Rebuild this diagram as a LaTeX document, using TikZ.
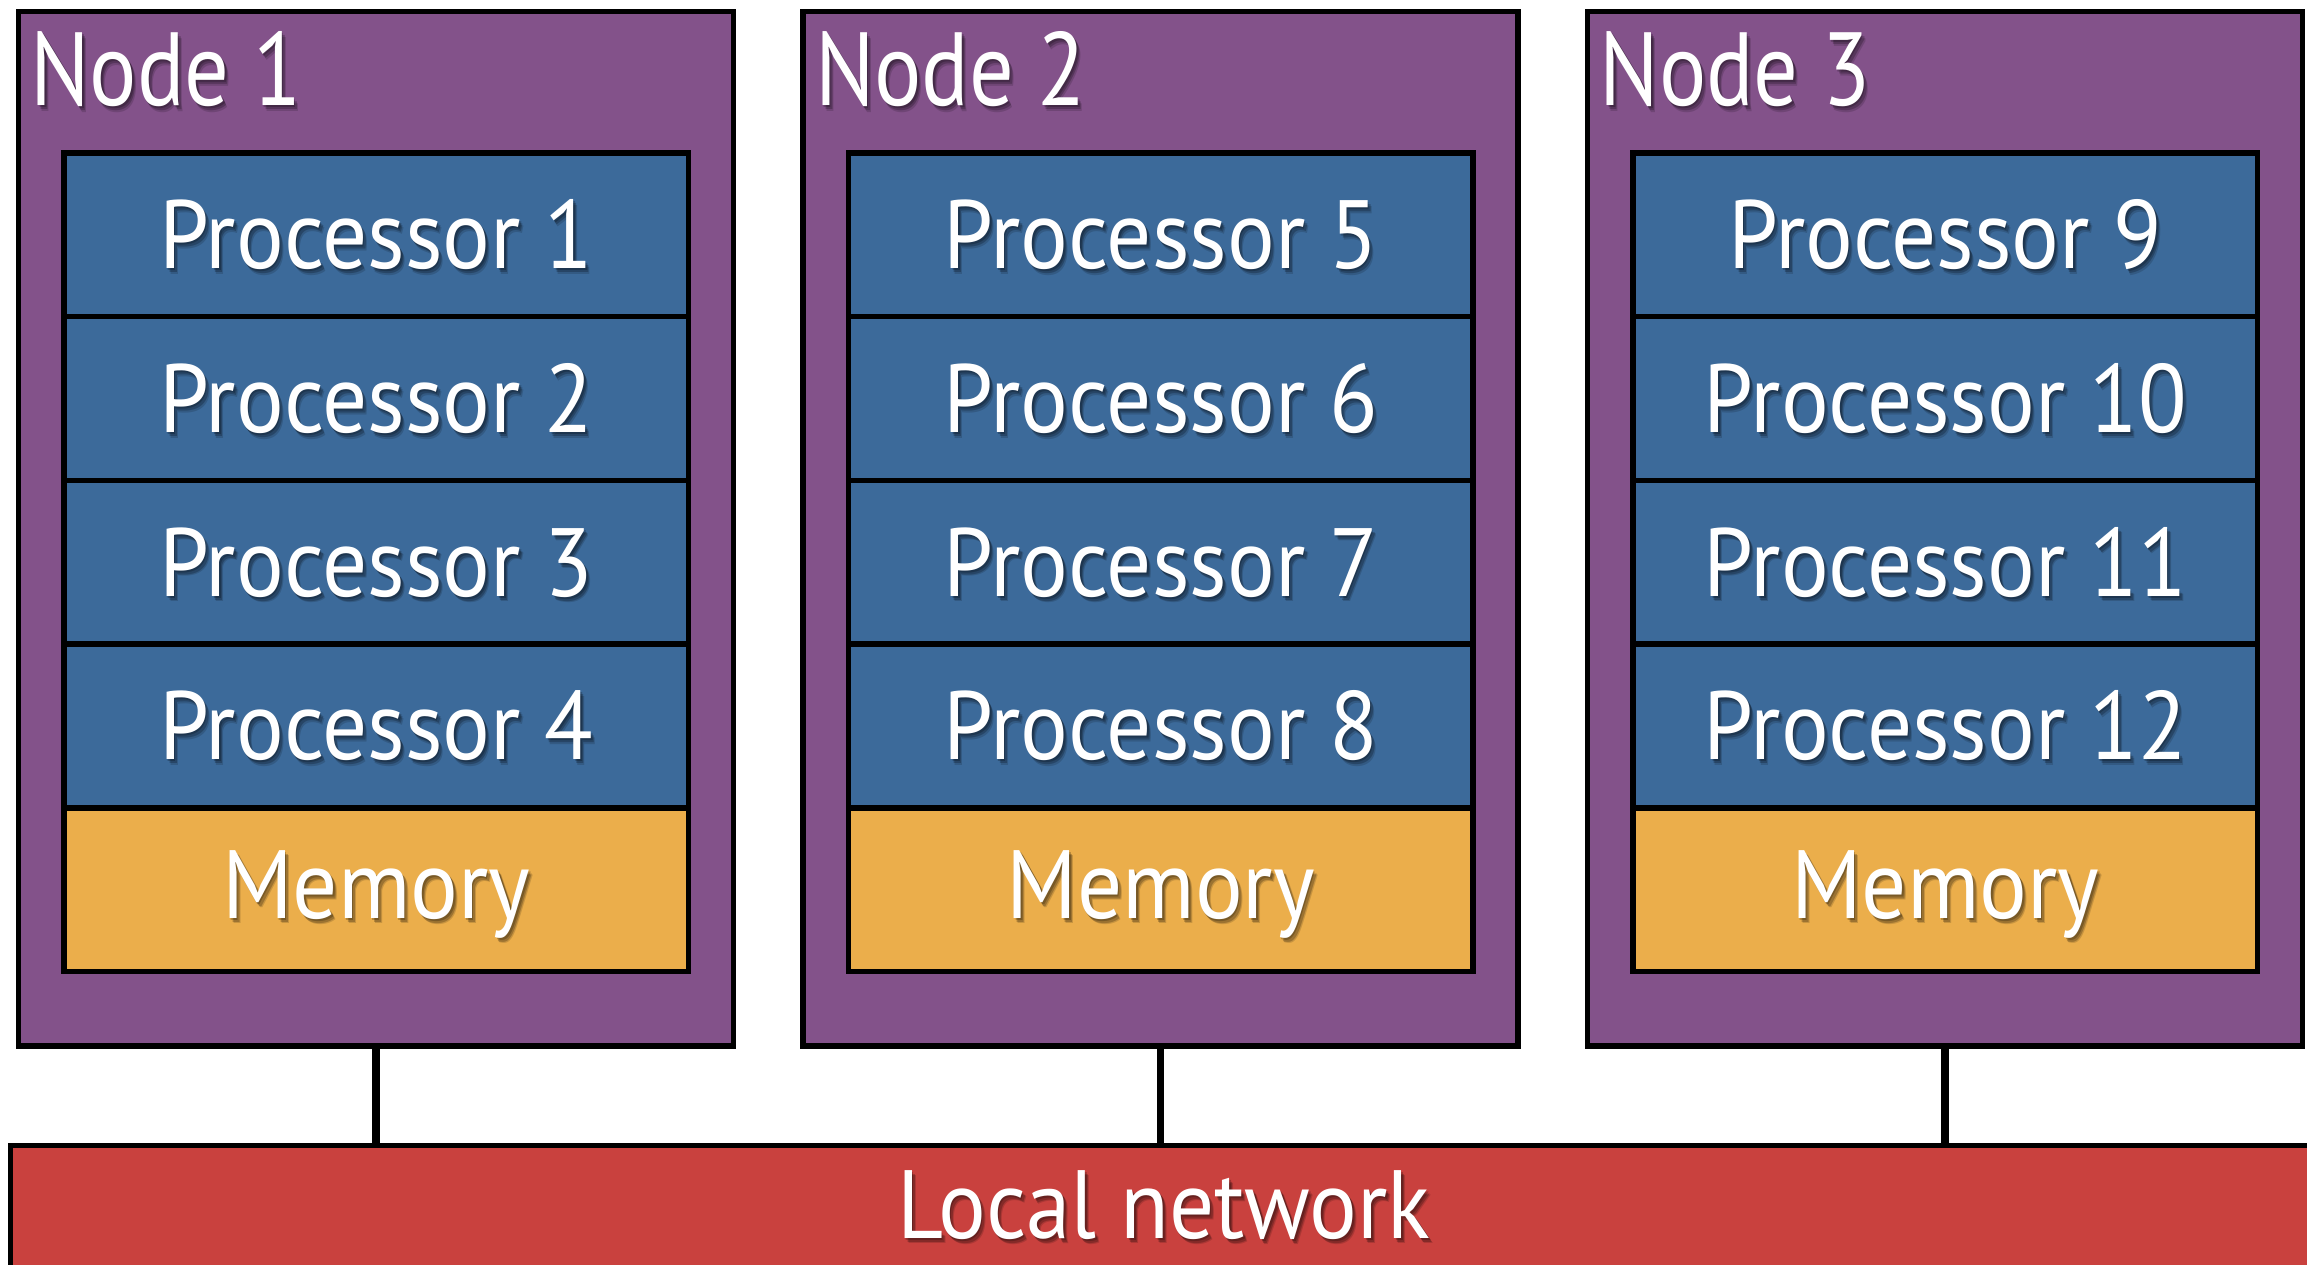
\documentclass[tikz,border=0pt]{standalone}
\usepackage{fontspec}
\setmainfont{PT Sans}[FakeStretch=0.92]
\newfontfamily\titlefamily{PT Sans}[FakeStretch=0.85]

\definecolor{nodepurple}{RGB}{131,82,138}
\definecolor{procblue}{RGB}{60,106,154}
\definecolor{memorange}{RGB}{235,174,75}
\definecolor{netred}{RGB}{201,65,62}

% white label with a soft dark drop shadow
\newcommand\shadowlabel[4]{% name, anchor, position, text
  \foreach \dx/\dy/\op in {1.5/2/0.22,3/4/0.22,4/5.5/0.15}
    \node[shadowtext, text opacity=\op, anchor=#2] at ([shift={(\dx,\dy)}]#3) {#4};
  \node[labeltext, anchor=#2] (#1) at (#3) {#4};
}

\begin{document}
\begin{tikzpicture}[x=1pt, y=-1pt,
  box/.style={draw=black, line width=5.5pt, inner sep=0pt, outer sep=0pt,
              anchor=north west},
  nodebox/.style={box, fill=nodepurple, minimum width=715pt, minimum height=1034.5pt},
  procbox/.style={box, fill=procblue, minimum width=624.5pt, minimum height=163.7pt},
  membox/.style={box, fill=memorange, minimum width=624.5pt, minimum height=163.7pt},
  netbox/.style={box, fill=netred, minimum width=2400pt, minimum height=200pt},
  wire/.style={draw=black, line width=7.5pt},
  labeltext/.style={text=white, inner sep=0pt, outer sep=0pt},
  shadowtext/.style={text=black, inner sep=0pt, outer sep=0pt},
  bigfont/.style={font=\titlefamily\fontsize{104}{110}\selectfont},
  midfont/.style={font=\fontsize{97}{100}\selectfont}
]
\useasboundingbox (0,0) rectangle (2307,1265);
\clip (0,0) rectangle (2307,1265);

% shared network bar
\node[netbox] (net) at (10.5,1145.5) {};
\begin{scope}[midfont]
\shadowlabel{nettext}{base}{1164,1238}{Local network}
\end{scope}

\foreach \k in {1,2,3} {
  \pgfmathsetmacro\ox{18.5+784.5*(\k-1)}
  \pgfmathsetmacro\ix{\ox+45.5}
  \pgfmathsetmacro\cx{\ix+312.25}
  % node enclosure
  \node[nodebox] (n\k) at (\ox,11.5) {};
  \begin{scope}[bigfont]
    \pgfmathsetmacro\tx{\ox+12}
    \shadowlabel{nlabel\k}{base west}{\tx,106}{Node \k}
  \end{scope}
  % four processors
  \foreach \j in {1,...,4} {
    \pgfmathtruncatemacro\p{4*(\k-1)+\j}
    \pgfmathsetmacro\ry{153+163.7*(\j-1)}
    \pgfmathsetmacro\by{\ry+81.85+34}
    \node[procbox] (p\p) at (\ix,\ry) {};
    \begin{scope}[midfont]
      \shadowlabel{ptext\p}{base}{\cx,\by}{Processor \p}
    \end{scope}
  }
  % memory
  \node[membox] (m\k) at (\ix,807.8) {};
  \begin{scope}[midfont]
    \shadowlabel{mtext\k}{base}{\cx,918}{Memory}
  \end{scope}
  % link to the network
  \draw[wire] (n\k.south) -- (n\k.south |- net.north);
}
\end{tikzpicture}
\end{document}
